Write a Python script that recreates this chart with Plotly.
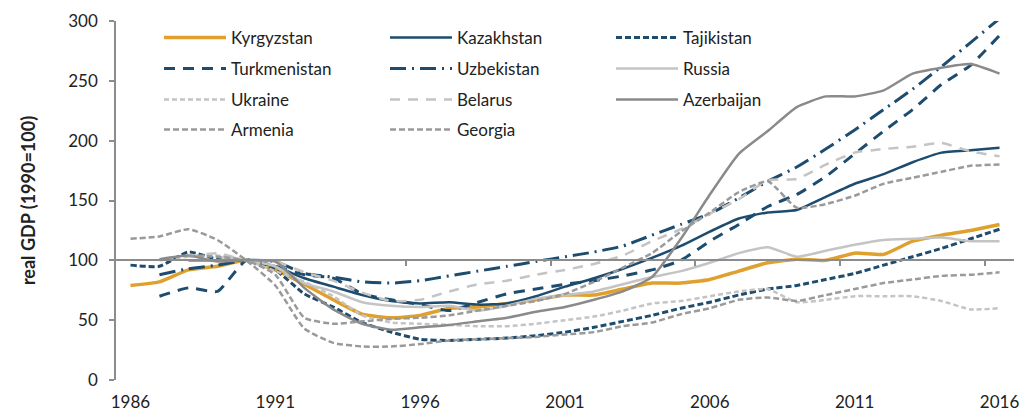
import plotly.graph_objects as go

years = list(range(1986, 2017))
N = None

kyrgyzstan   = [79, 82, 92, 95, 100, 92, 80, 67, 55, 52, 54, 60, 61, 64, 67, 71, 71, 76, 81, 81, 84, 91, 98, 101, 100, 106, 105, 116, 121, 125, 130]
kazakhstan   = [N, N, 100, 100, 100, 95, 85, 78, 71, 66, 64, 65, 63, 64, 70, 78, 85, 93, 102, 112, 124, 135, 140, 142, 153, 164, 172, 182, 190, 192, 194]
tajikistan   = [96, 95, 107, 101, 100, 92, 72, 61, 48, 40, 34, 33, 34, 35, 37, 40, 44, 49, 54, 60, 65, 71, 76, 79, 84, 89, 96, 103, 110, 118, 126]
turkmenistan = [N, 70, 77, 74, 100, 95, 88, 85, 72, 67, 63, 58, 65, 72, 76, 80, 83, 87, 92, 100, 116, 130, 145, 155, 170, 189, 208, 226, 247, 263, 288]
uzbekistan   = [N, 88, 93, 96, 100, 99, 89, 86, 82, 81, 83, 87, 91, 95, 99, 103, 107, 112, 121, 130, 139, 152, 166, 178, 193, 209, 226, 243, 262, 282, 302]
russia       = [N, N, N, 103, 100, 95, 81, 74, 65, 62, 61, 62, 58, 62, 68, 71, 74, 80, 86, 91, 98, 106, 111, 103, 108, 113, 117, 118, 119, 116, 116]
ukraine      = [N, 100, 103, 104, 100, 91, 82, 70, 54, 48, 47, 46, 45, 45, 47, 50, 53, 58, 64, 66, 70, 74, 76, 65, 67, 70, 70, 70, 66, 59, 60]
belarus      = [N, N, 103, 106, 100, 99, 90, 83, 73, 66, 67, 74, 80, 83, 88, 92, 97, 104, 116, 126, 139, 151, 167, 168, 180, 190, 193, 195, 198, 191, 187]
azerbaijan   = [N, 101, 104, 99, 100, 99, 77, 59, 47, 42, 44, 46, 49, 52, 57, 61, 67, 74, 86, 118, 155, 189, 208, 228, 237, 237, 242, 256, 261, 264, 256]
armenia      = [N, N, 104, 103, 100, 88, 52, 47, 49, 51, 52, 54, 58, 62, 66, 72, 82, 94, 106, 124, 140, 157, 166, 144, 147, 154, 164, 169, 174, 179, 180]
georgia      = [118, 120, 126, 117, 100, 79, 43, 31, 28, 28, 30, 33, 34, 35, 36, 38, 40, 45, 48, 55, 60, 67, 69, 66, 71, 76, 81, 84, 87, 88, 90]

names = ["Kyrgyzstan", "Kazakhstan", "Tajikistan", "Turkmenistan", "Uzbekistan", "Russia",
         "Ukraine", "Belarus", "Azerbaijan", "Armenia", "Georgia"]
series = [kyrgyzstan, kazakhstan, tajikistan, turkmenistan, uzbekistan, russia,
          ukraine, belarus, azerbaijan, armenia, georgia]

x_ticks = [1986, 1991, 1996, 2001, 2006, 2011, 2016]
x_minor = [1990.5, 1995.5, 2000.5, 2005.5, 2010.5, 2015.5]
y_ticks = [0, 50, 100, 150, 200, 250, 300]

ORANGE = "#DFA02E"
NAVY = "#1D4C6E"
LGREY = "#C4C4C4"
MGREY = "#9A9A9A"
DGREY = "#8A8A8A"
AXIS = "#8C8C8C"

styles = [
    dict(color=ORANGE, width=3.5, dash="solid"),
    dict(color=NAVY, width=2.5, dash="solid"),
    dict(color=NAVY, width=3, dash="6px,3px"),
    dict(color=NAVY, width=3, dash="11px,8px"),
    dict(color=NAVY, width=3, dash="16px,6px,2px,6px"),
    dict(color=LGREY, width=2.5, dash="solid"),
    dict(color=LGREY, width=2.5, dash="5px,3px"),
    dict(color=LGREY, width=2.5, dash="10px,8px"),
    dict(color=DGREY, width=2.5, dash="solid"),
    dict(color=MGREY, width=2.5, dash="6px,3px"),
    dict(color=MGREY, width=2.5, dash="6px,3px"),
]

FONT = "Lato, 'Open Sans', sans-serif"

fig = go.Figure()
legend_ids = ["legend", "legend2", "legend3", "legend4"]
for i, (nm, vals, st) in enumerate(zip(names, series, styles)):
    fig.add_trace(go.Scatter(
        x=years, y=vals, name=nm, mode="lines",
        line=dict(color=st["color"], width=st["width"], dash=st["dash"],
                  shape="spline", smoothing=0.5),
        legend=legend_ids[i // 3],
        connectgaps=False,
    ))

# helper trace so the crossing axis at y=100 is drawn
fig.add_trace(go.Scatter(x=[2000], y=[None], xaxis="x2", yaxis="y",
                         mode="lines", showlegend=False, hoverinfo="skip"))

W, H = 1020, 412
PLOT_L, PLOT_R, PLOT_T, PLOT_B = 116, 1014, 21, 380
row_px = [38, 69, 100, 130]
leg_common = dict(orientation="h", xref="paper", yref="paper",
                  x=(159 - PLOT_L) / (PLOT_R - PLOT_L), xanchor="left", yanchor="middle",
                  entrywidth=149, entrywidthmode="pixels", itemwidth=62,
                  font=dict(family=FONT, size=17, color="#222222"),
                  bgcolor="rgba(0,0,0,0)", borderwidth=0, traceorder="normal")
legends = {}
for k, lid in enumerate(legend_ids):
    legends[lid] = dict(leg_common, y=(PLOT_B - row_px[k]) / (PLOT_B - PLOT_T))

fig.update_layout(
    width=W, height=H,
    margin=dict(l=PLOT_L, r=W - PLOT_R, t=PLOT_T, b=H - PLOT_B),
    plot_bgcolor="white", paper_bgcolor="white",
    font=dict(family=FONT, size=17, color="#222222"),
    xaxis=dict(range=[1985.5, 2016.5], tickvals=x_ticks, showline=False,
               showgrid=False, zeroline=False, ticks="", ticklabelstandoff=10,
               automargin=False,
               tickfont=dict(family=FONT, size=17, color="#222222")),
    xaxis2=dict(overlaying="x", matches="x", anchor="free", position=1 / 3,
                side="bottom", showline=True, linecolor=AXIS, linewidth=1.5,
                ticks="outside", ticklen=5, tickcolor=AXIS, tickwidth=1.5,
                tickvals=x_minor, showticklabels=False, showgrid=False,
                zeroline=False),
    yaxis=dict(range=[0, 300], tickvals=y_ticks, showline=True, linecolor=AXIS,
               linewidth=1.5, ticks="outside", ticklen=5, tickcolor=AXIS,
               tickwidth=1.5, showgrid=False, zeroline=False,
               ticklabelstandoff=8, automargin=False,
               tickfont=dict(family=FONT, size=17, color="#222222"),
               title=dict(text="<b>real GDP (1990=100)</b>", standoff=28,
                          font=dict(family=FONT, size=18, color="#222222"))),
    **legends,
)

fig.write_html("out.html", config={"displayModeBar": False},
               post_script="document.body.style.margin='0';document.body.style.overflow='hidden';")
